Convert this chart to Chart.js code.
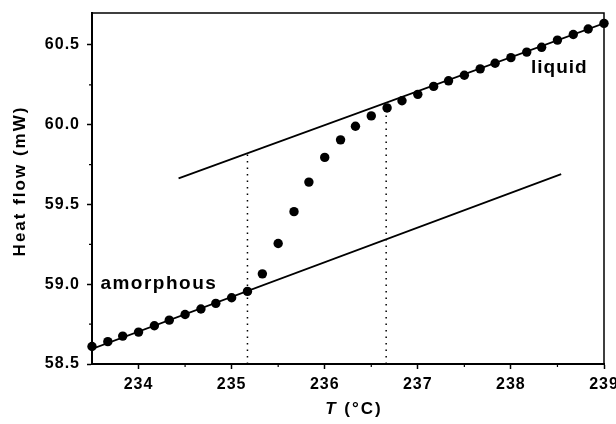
<!DOCTYPE html>
<html>
<head>
<meta charset="utf-8">
<style>
  html, body { margin: 0; padding: 0; background: #fff; }
  #wrap { width: 616px; height: 424px; }
</style>
<script src="https://cdn.jsdelivr.net/npm/chart.js@4.4.0/dist/chart.umd.min.js"></script>
</head>
<body>
<div id="wrap"><canvas id="dscChart"></canvas></div>
<script>
// measured DSC points, T in degC and heat flow in mW
const temperature = [
    233.5, 233.67, 233.83, 234.0, 234.17, 234.33, 234.5, 234.67, 234.83, 235.0,
    235.17, 235.33, 235.5, 235.67, 235.83, 236.0, 236.17, 236.33, 236.5, 236.67,
    236.83, 237.0, 237.17, 237.33, 237.5, 237.67, 237.83, 238.0, 238.17, 238.33,
    238.5, 238.67, 238.83, 239.0
];
const heatFlow = [
    58.61, 58.64, 58.675, 58.70, 58.74, 58.775, 58.81, 58.845, 58.88, 58.915,
    58.955, 59.065, 59.255, 59.455, 59.64, 59.795, 59.905, 59.99, 60.055, 60.105,
    60.15, 60.19, 60.24, 60.275, 60.31, 60.35, 60.385, 60.42, 60.455, 60.485,
    60.53, 60.565, 60.60, 60.635
];

// baselines (amorphous / liquid) and the two dotted markers
const amorphousT = [233.5, 238.54];
const amorphousQ = [58.595, 59.69];
const liquidT = [234.43, 239.0];
const liquidQ = [59.664, 60.635];
const onsetT = [235.17, 235.17];
const onsetQ = [58.5, 59.823];
const endsetT = [236.66, 236.66];
const endsetQ = [58.5, 60.11];

const xTicks = [234, 235, 236, 237, 238, 239];
const xMinorTicks = [234.5, 235.5, 236.5, 237.5, 238.5];
const yTicks = [58.5, 59.0, 59.5, 60.0, 60.5];
const yMinorTicks = [58.75, 59.25, 59.75, 60.25];

const toXY = (xs, ys) => xs.map((x, i) => ({ x: x, y: ys[i] }));

const FONT = "'Liberation Sans', Arial, sans-serif";

const decorPlugin = {
    id: "decor",
    beforeDraw(chart) {
        chart.ctx.letterSpacing = "1px";
    },
    afterDraw(chart) {
        const ctx = chart.ctx;
        const area = chart.chartArea;
        const xs = chart.scales.x;
        const ys = chart.scales.y;
        ctx.save();
        ctx.strokeStyle = "#000";

        // top and right frame
        ctx.lineWidth = 1.5;
        ctx.beginPath();
        ctx.moveTo(area.left, area.top);
        ctx.lineTo(area.right, area.top);
        ctx.lineTo(area.right, area.bottom);
        ctx.stroke();

        // minor ticks
        ctx.lineWidth = 1.2;
        ctx.beginPath();
        xMinorTicks.forEach(v => {
            const px = xs.getPixelForValue(v);
            ctx.moveTo(px, area.bottom);
            ctx.lineTo(px, area.bottom + 3);
        });
        yMinorTicks.forEach(v => {
            const py = ys.getPixelForValue(v);
            ctx.moveTo(area.left, py);
            ctx.lineTo(area.left - 3, py);
        });
        ctx.stroke();

        // region labels
        ctx.fillStyle = "#000";
        ctx.textBaseline = "middle";
        ctx.font = "bold 19px " + FONT;
        ctx.letterSpacing = "1.5px";
        ctx.textAlign = "left";
        ctx.fillText("amorphous", xs.getPixelForValue(233.59), ys.getPixelForValue(59.0));
        ctx.letterSpacing = "1px";
        ctx.textAlign = "center";
        ctx.fillText("liquid", xs.getPixelForValue(238.52), ys.getPixelForValue(60.356));

        // x title: italic T + (°C)
        ctx.letterSpacing = "2px";
        ctx.textAlign = "left";
        ctx.font = "italic bold 17px " + FONT;
        const tW = ctx.measureText("T").width;
        ctx.font = "bold 17px " + FONT;
        const restW = ctx.measureText(" (°C)").width;
        const cx = (area.left + area.right) / 2 + 6;
        const startX = cx - (tW + restW) / 2;
        ctx.font = "italic bold 17px " + FONT;
        ctx.fillText("T", startX, 409);
        ctx.font = "bold 17px " + FONT;
        ctx.fillText(" (°C)", startX + tW, 409);

        // y title
        ctx.translate(20, 181);
        ctx.rotate(-Math.PI / 2);
        ctx.textAlign = "center";
        ctx.fillText("Heat flow (mW)", 0, 0);
        ctx.restore();
        ctx.letterSpacing = "0px";
    }
};

const ctx = document.getElementById("dscChart").getContext("2d");

const dscChart = new Chart(ctx, {
    type: "scatter",
    data: {
        datasets: [
            {
                label: "DSC",
                data: toXY(temperature, heatFlow),
                backgroundColor: "#000",
                borderColor: "#000",
                pointRadius: 4.7,
                pointBorderWidth: 0,
                clip: false
            },
            {
                label: "amorphous",
                data: toXY(amorphousT, amorphousQ),
                showLine: true,
                borderColor: "#000",
                borderWidth: 1.8,
                pointRadius: 0
            },
            {
                label: "liquid",
                data: toXY(liquidT, liquidQ),
                showLine: true,
                borderColor: "#000",
                borderWidth: 1.8,
                pointRadius: 0
            },
            {
                label: "onset",
                data: toXY(onsetT, onsetQ),
                showLine: true,
                borderColor: "#000",
                borderWidth: 1.5,
                borderDash: [1.5, 5],
                pointRadius: 0
            },
            {
                label: "endset",
                data: toXY(endsetT, endsetQ),
                showLine: true,
                borderColor: "#000",
                borderWidth: 1.5,
                borderDash: [1.5, 5],
                pointRadius: 0
            }
        ]
    },
    options: {
        responsive: true,
        maintainAspectRatio: false,
        animation: false,
        layout: { padding: { top: 13, right: 12, bottom: 0, left: 0 } },
        scales: {
            x: {
                type: "linear",
                min: 233.5,
                max: 239,
                afterBuildTicks: (scale) => { scale.ticks = xTicks.map(v => ({ value: v })); },
                afterFit: (scale) => {
                    scale.height = 60;
                    scale.paddingLeft = 0;
                    scale.paddingRight = 0;
                },
                ticks: {
                    color: "#000",
                    padding: 6,
                    maxRotation: 0,
                    autoSkip: false,
                    font: { family: FONT, size: 16, weight: "bold" },
                    callback: (v) => String(v)
                },
                grid: { drawOnChartArea: false, drawTicks: true, tickLength: 5, tickColor: "#000", tickWidth: 1.5 },
                border: { display: true, color: "#000", width: 2 }
            },
            y: {
                type: "linear",
                min: 58.5,
                max: 60.7,
                afterBuildTicks: (scale) => { scale.ticks = yTicks.map(v => ({ value: v })); },
                afterFit: (scale) => {
                    scale.width = 92;
                    scale.paddingTop = 0;
                    scale.paddingBottom = 0;
                },
                ticks: {
                    color: "#000",
                    padding: 7,
                    font: { family: FONT, size: 16, weight: "bold" },
                    callback: (v) => Number(v).toFixed(1)
                },
                grid: { drawOnChartArea: false, drawTicks: true, tickLength: 5, tickColor: "#000", tickWidth: 1.5 },
                border: { display: true, color: "#000", width: 2 }
            }
        },
        plugins: {
            legend: { display: false },
            tooltip: { enabled: false }
        }
    },
    plugins: [decorPlugin]
});
</script>
</body>
</html>
